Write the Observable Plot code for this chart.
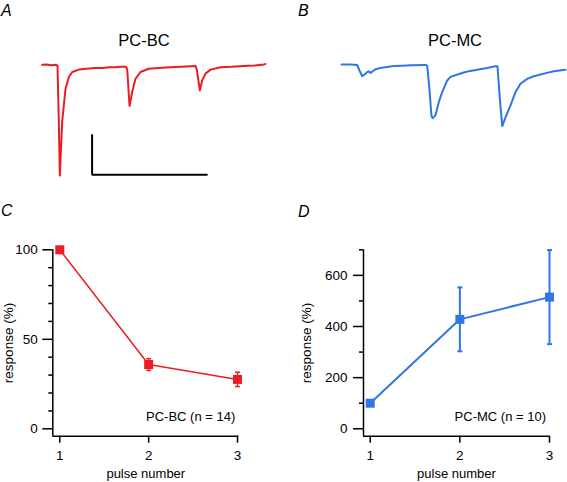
<!DOCTYPE html>
<html><head><meta charset="utf-8">
<script src="https://cdn.jsdelivr.net/npm/d3@7"></script>
<script src="https://cdn.jsdelivr.net/npm/@observablehq/plot@0.6"></script>
<style>
body{margin:0;background:#fff;}
#fig{position:relative;width:567px;height:482px;font-family:"Liberation Sans",Arial,sans-serif;color:#000;overflow:hidden;}
.panel{position:absolute;}
.letter{position:absolute;font-style:italic;font-size:16px;line-height:1;}
.title{position:absolute;font-size:16.5px;line-height:1;transform:translate(-50%,-50%);white-space:nowrap;}
</style></head><body><div id="fig"></div>
<script>
// ---- data ----
const pulses = [1, 2, 3];
const bcMean = [100, 35.9, 27.6];
const bcSem  = [0, 3.3, 4.0];
const mcMean = [100, 428, 515];
const mcSem  = [0, 125, 184];
const bcTicksMajor = [0, 50, 100];
const bcTicksMinor = [10, 20, 30, 40, 60, 70, 80, 90];
const mcTicksMajor = [0, 200, 400, 600];
const mcTicksMinor = [100, 300, 500, 700];
const bcLabel = "PC-BC (n = 14)";
const mcLabel = "PC-MC (n = 10)";

// example traces (time in ms, current in pA)
const traceBC_t  = [0,4,8,12,13.2,14.3,15.2,17.2,20.1,22.9,25.9,31.6,38,45.9,52,58,63.2,68,72.4,73.3,75.3,77.6,80.4,84.7,91.9,100,110.6,120,132.2,133.3,135.9,137.9,140.8,145.1,153.7,163,173.8,183,191,192.5];
const traceBC_pA = [0,1,-1,0,-2,-140,-277,-143,-60,-31,-18,-12,-10,-8,-8,-6,-6,-5,-5,-12,-103,-68,-35,-18,-10,-8,-6,-5,-3,-12,-64,-39,-22,-12,-6,-5,-3,-2,1,2];
const traceMC_t  = [0,7.8,13.5,15.5,17.8,20.7,22,23.5,25,29.3,33,37.9,45,52.3,60,72.4,73.9,75.9,77.6,78.7,81,83.9,86.8,91.1,94,100,105.4,111,117,125.6,133.6,134.5,136.6,138.6,141.4,145.7,150,154.3,160.1,165,171.6,177,183,188,193.1];
const traceMC_pA = [0,0,-1,-15,-29,-23,-19,-17,-21,-12,-9,-7,-4,-3,-2,-1,-3,-65,-130,-134,-127,-94,-69,-40,-31,-25,-20,-16,-13,-9,-4,-5,-90,-154,-132,-102,-69,-48,-36,-30,-25,-21,-17,-15,-13];
const scaleBarStart = 43, scaleBarMs = 100, scaleBarBase = -275, scaleBarPA = 100;

const RED = "#ec1c24", BLUE = "#2f76e6";
const FONT = '"Liberation Sans", Arial, sans-serif';
const SVG_STYLE = 'background: transparent; overflow: visible; font-family: "Liberation Sans", Arial, sans-serif; font-size: 13px; color: #000;';

const fig = document.getElementById("fig");
function place(node, left, top) {
  const d = document.createElement("div");
  d.className = "panel"; d.style.left = left + "px"; d.style.top = top + "px";
  d.appendChild(node); fig.appendChild(d);
}

const capSymbol = {draw(ctx, size) { const w = Math.sqrt(size) / 2; ctx.moveTo(-w, 0); ctx.lineTo(w, 0); }};

function tracePlot(t, pA, color, xRange, yRange, extra) {
  const rows = t.map((v, i) => ({t: v, i: pA[i]}));
  return Plot.plot({
    width: 283, height: 190, margin: 0,
    style: SVG_STYLE,
    x: {domain: [0, 193], range: xRange, axis: null},
    y: {domain: [-300, 50], range: yRange, axis: null},
    marks: [Plot.line(rows, {x: "t", y: "i", stroke: color, strokeWidth: 2, strokeLinejoin: "round"}), ...extra]
  });
}

const plotA = tracePlot(traceBC_t, traceBC_pA, RED, [41.7, 41.7 + 193 * 1.16], [184.3, 44.3], [
  Plot.ruleX([scaleBarStart], {y1: scaleBarBase, y2: scaleBarBase + scaleBarPA, stroke: "#000", strokeWidth: 2}),
  Plot.ruleY([scaleBarBase], {x1: scaleBarStart, x2: scaleBarStart + scaleBarMs, stroke: "#000", strokeWidth: 2})
]);
place(plotA, 0, 0);
const plotB = tracePlot(traceMC_t, traceMC_pA, BLUE, [341 - 283, 341 - 283 + 193 * 1.16], [184, 44], []);
place(plotB, 283, 0);

function summary({mean, sem, color, major, minor, xDomain, yDomain, width, mLeft, mRight, label, labelDx, lw, tickPad}) {
  const rows = pulses.map((p, i) => ({p, m: mean[i], lo: mean[i] - sem[i], hi: mean[i] + sem[i], s: sem[i]}));
  const err = rows.filter(d => d.s > 0);
  return Plot.plot({
    width, height: 292, marginLeft: mLeft, marginRight: mRight, marginTop: 59.3, marginBottom: 46.3,
    style: SVG_STYLE,
    x: {domain: xDomain}, y: {domain: yDomain},
    marks: [
      Plot.ruleY([yDomain[0]], {stroke: "#000", strokeWidth: 1.5}),
      Plot.ruleX([xDomain[0]], {stroke: "#000", strokeWidth: 1.5}),
      Plot.axisY(major, {tickSize: 10, tickPadding: tickPad, strokeWidth: 1.5, label: null, tickFormat: "d", fontSize: 13.5, fontFamily: FONT}),
      Plot.axisY(minor, {tickSize: 4, tickFormat: () => "", strokeWidth: 1.5, label: null}),
      Plot.axisX(pulses, {tickSize: 7, tickPadding: 7, tickFormat: "d", strokeWidth: 1.5, label: null, fontSize: 13.5, fontFamily: FONT}),
      Plot.text(["pulse number"], {text: d => d, frameAnchor: "bottom", lineAnchor: "middle", dy: 38, fontSize: 13, fontFamily: FONT}),
      Plot.text(["response (%)"], {text: d => d, frameAnchor: "left", textAnchor: "middle", lineAnchor: "middle", rotate: -90, dx: labelDx, fontSize: 13.5, fontFamily: FONT}),
      Plot.text([label], {text: d => d, frameAnchor: "bottom-right", textAnchor: "end", lineAnchor: "middle", dx: -3.5, dy: -19.5, fontSize: 13, fontFamily: FONT}),
      Plot.line(rows, {x: "p", y: "m", stroke: color, strokeWidth: lw}),
      Plot.ruleX(err, {x: "p", y1: "lo", y2: "hi", stroke: color, strokeWidth: lw}),
      Plot.dot(err, {x: "p", y: "lo", symbol: capSymbol, r: 2.82, stroke: color, fill: "none", strokeWidth: lw}),
      Plot.dot(err, {x: "p", y: "hi", symbol: capSymbol, r: 2.82, stroke: color, fill: "none", strokeWidth: lw}),
      Plot.dot(rows, {x: "p", y: "m", symbol: "square", r: 5.08, fill: color, stroke: "none"})
    ]
  });
}

place(summary({mean: bcMean, sem: bcSem, color: RED, major: bcTicksMajor, minor: bcTicksMinor,
  xDomain: [0.9212, 3.0146], yDomain: [-4.13, 100], width: 283, mLeft: 52.3, mRight: 44.7,
  label: bcLabel, labelDx: -43.8, lw: 1.5, tickPad: 5}), 0, 190);
place(summary({mean: mcMean, sem: mcSem, color: BLUE, major: mcTicksMajor, minor: mcTicksMinor,
  xDomain: [0.925, 3.0], yDomain: [-29, 700], width: 284, mLeft: 80, mRight: 18,
  label: mcLabel, labelDx: -57, lw: 2, tickPad: 6}), 283, 190);

// letters & titles
function addText(cls, txt, left, top) {
  const d = document.createElement("div"); d.className = cls; d.textContent = txt;
  d.style.left = left + "px"; d.style.top = top + "px"; fig.appendChild(d);
}
addText("letter", "A", 1, 2.8);
addText("letter", "B", 298, 2.8);
addText("letter", "C", 1, 202.8);
addText("letter", "D", 298, 204.3);
addText("title", "PC-BC", 144, 40);
addText("title", "PC-MC", 455, 40);
</script></body></html>
